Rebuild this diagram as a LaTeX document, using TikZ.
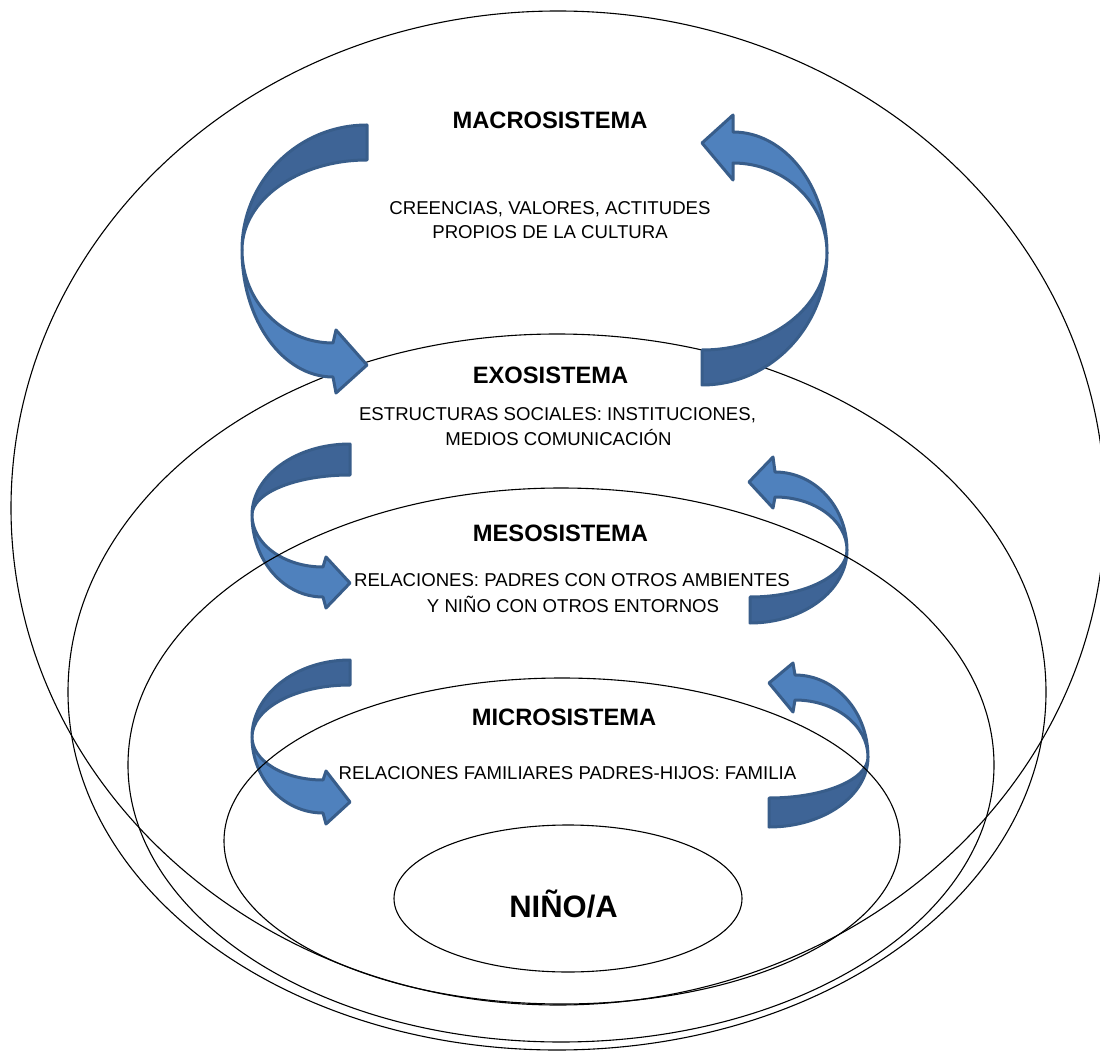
\documentclass[tikz,border=0pt]{standalone}
\usepackage{fontspec}
\setmainfont{Liberation Sans}
\definecolor{arrlight}{RGB}{79,129,189}
\definecolor{arrdark}{RGB}{62,100,150}
\definecolor{arrborder}{RGB}{56,93,138}
\begin{document}
\begin{tikzpicture}[x=1pt,y=1pt,
  ring/.style={draw=black,line width=1.1pt},
  arrowdark/.style={fill=arrdark,draw=arrborder,line width=3pt,line join=round},
  arrowlight/.style={fill=arrlight,draw=arrborder,line width=3pt,line join=round},
  title/.style={font=\fontsize{23.7}{28}\selectfont\bfseries,anchor=base,inner sep=0pt},
  desc/.style={font=\fontsize{18.6}{22}\selectfont,anchor=base,inner sep=0pt},
  child/.style={font=\fontsize{31}{36}\selectfont\bfseries,anchor=base,inner sep=0pt}]
\useasboundingbox (0,0) rectangle (1100,-1056);
\fill[white] (0,0) rectangle (1100,-1056);
\clip (0,0) rectangle (1100,-1056);

% outer rings
\draw[ring] (558,-508) ellipse [x radius=547, y radius=497];
\draw[ring] (557,-692) ellipse [x radius=489, y radius=358];

% macro arrows
\path[arrowdark] (367,-125) arc[start angle=90,end angle=180,x radius=125,y radius=125]
  arc[start angle=180,end angle=90,x radius=125,y radius=90] -- cycle;
\path[arrowlight] (242,-250) arc[start angle=180,end angle=270,x radius=91,y radius=127]
  -- (336,-393) -- (367,-365) -- (336,-330) -- (333,-343)
  arc[start angle=270,end angle=180,x radius=91,y radius=93] -- cycle;
\path[arrowlight] (733,-132) arc[start angle=90,end angle=0,x radius=94,y radius=121]
  arc[start angle=0,end angle=90,x radius=94,y radius=90]
  -- (733,-180) -- (702,-143) -- (733,-115) -- cycle;
\path[arrowdark] (827,-253) arc[start angle=0,end angle=-90,x radius=125,y radius=132]
  -- (702,-350) arc[start angle=-90,end angle=0,x radius=125,y radius=97] -- cycle;

% exo arrows
\path[arrowdark] (350,-444) arc[start angle=90,end angle=180,x radius=98,y radius=71]
  arc[start angle=180,end angle=90,x radius=98,y radius=40] -- cycle;
\path[arrowlight] (252,-515) arc[start angle=180,end angle=270,x radius=71,y radius=82]
  -- (326,-608) -- (350,-583) -- (326,-557) -- (323,-567)
  arc[start angle=270,end angle=180,x radius=71,y radius=52] -- cycle;
\path[arrowlight] (775,-472) arc[start angle=90,end angle=0,x radius=72,y radius=78]
  arc[start angle=0,end angle=90,x radius=72,y radius=53]
  -- (773,-508) -- (749,-482) -- (773,-457) -- cycle;
\path[arrowdark] (847,-550) arc[start angle=0,end angle=-90,x radius=97,y radius=73]
  -- (750,-597) arc[start angle=-90,end angle=0,x radius=97,y radius=47] -- cycle;

% meso arrows
\path[arrowdark] (350,-660) arc[start angle=90,end angle=180,x radius=98,y radius=77]
  arc[start angle=180,end angle=90,x radius=98,y radius=52] -- cycle;
\path[arrowlight] (252,-737) arc[start angle=180,end angle=270,x radius=71,y radius=76]
  -- (326,-824) -- (350,-802) -- (326,-771) -- (323,-780)
  arc[start angle=270,end angle=180,x radius=71,y radius=43] -- cycle;
\path[arrowlight] (795,-675) arc[start angle=90,end angle=0,x radius=73,y radius=82]
  arc[start angle=0,end angle=90,x radius=73,y radius=57]
  -- (793,-712) -- (769,-683) -- (793,-663) -- cycle;
\path[arrowdark] (868,-757) arc[start angle=0,end angle=-90,x radius=99,y radius=70]
  -- (769,-798) arc[start angle=-90,end angle=0,x radius=99,y radius=41] -- cycle;

% inner rings
\draw[ring] (561,-765) ellipse [x radius=433, y radius=277];
\draw[ring] (562,-841) ellipse [x radius=338, y radius=163];
\draw[ring] (568,-898.5) ellipse [x radius=174, y radius=73.5];

% texts
\node[title] (macro) at (550,-128.5) {MACROSISTEMA};
\node[desc] (macro1) at (550,-214.7) {CREENCIAS, VALORES, ACTITUDES};
\node[desc] (macro2) at (550,-238.7) {PROPIOS DE LA CULTURA};
\node[title] (exo) at (550.5,-383.5) {EXOSISTEMA};
\node[desc] (exo1) at (557.5,-420.7) {ESTRUCTURAS SOCIALES: INSTITUCIONES,};
\node[desc] (exo2) at (558.5,-445) {MEDIOS COMUNICACIÓN};
\node[title] (meso) at (560.5,-541) {MESOSISTEMA};
\node[desc] (meso1) at (572,-586) {RELACIONES: PADRES CON OTROS AMBIENTES};
\node[desc] (meso2) at (573,-612) {Y NIÑO CON OTROS ENTORNOS};
\node[title] (micro) at (564,-725) {MICROSISTEMA};
\node[desc] (micro1) at (567.5,-779) {RELACIONES FAMILIARES PADRES-HIJOS: FAMILIA};
\node[child] (nino) at (563.5,-917) {NIÑO/A};
\end{tikzpicture}
\end{document}
